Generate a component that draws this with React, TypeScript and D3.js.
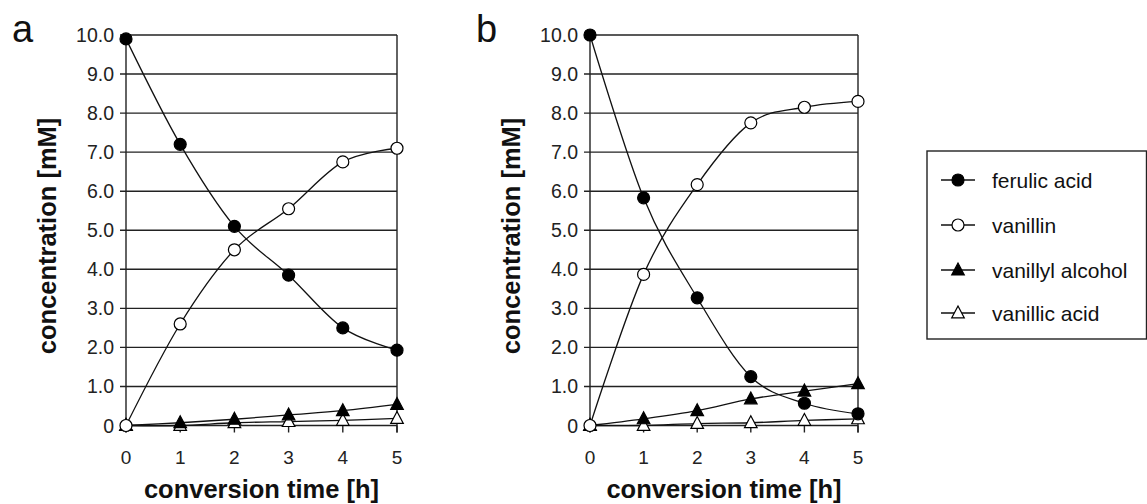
import React from "react";
import * as d3 from "d3";

const hours = [0, 1, 2, 3, 4, 5];
const yTicks = [0, 1, 2, 3, 4, 5, 6, 7, 8, 9, 10];
const yTickLabels = ["0", "1.0", "2.0", "3.0", "4.0", "5.0", "6.0", "7.0", "8.0", "9.0", "10.0"];

const seriesNames = ["ferulic acid", "vanillin", "vanillyl alcohol", "vanillic acid"];

const aFerulic = [9.9, 7.2, 5.1, 3.85, 2.5, 1.93];
const aVanillin = [0, 2.6, 4.5, 5.55, 6.75, 7.1];
const aAlcohol = [0, 0.07, 0.16, 0.27, 0.38, 0.54];
const aVanillic = [0, 0, 0.07, 0.1, 0.13, 0.18];

const bFerulic = [10.0, 5.83, 3.27, 1.25, 0.57, 0.3];
const bVanillin = [0, 3.87, 6.17, 7.75, 8.15, 8.3];
const bAlcohol = [0, 0.17, 0.38, 0.68, 0.88, 1.07];
const bVanillic = [0, 0, 0.05, 0.07, 0.13, 0.17];

const markerKinds = ["circleFilled", "circleOpen", "triFilled", "triOpen"];

const FONT = "'Liberation Sans', Arial, sans-serif";

function Marker({ kind, x, y }: { kind: string; x: number; y: number }) {
  if (kind.startsWith("circle")) {
    return (
      <circle cx={x} cy={y} r={6} fill={kind === "circleFilled" ? "#000" : "#fff"} stroke="#000" strokeWidth={1.2} />
    );
  }
  const s = 7;
  const pts = `${x},${y - s} ${x + s * 0.9},${y + s * 0.7} ${x - s * 0.9},${y + s * 0.7}`;
  return <polygon points={pts} fill={kind === "triFilled" ? "#000" : "#fff"} stroke="#000" strokeWidth={1.2} />;
}

function Panel({ left, right, label, series }: { left: number; right: number; label: string; series: number[][] }) {
  const top = 35;
  const bottom = 425.5;
  const x = d3.scaleLinear().domain([0, 5]).range([left, right]);
  const y = d3.scaleLinear().domain([0, 10]).range([bottom, top]);
  const line = d3
    .line<number>()
    .x((_, i) => x(hours[i]))
    .y((d) => y(d))
    .curve(d3.curveCardinal.tension(0));
  return (
    <g>
      <text x={left - 114} y={42} fontSize={38} fontFamily={FONT} fill="#111">
        {label}
      </text>
      {yTicks.map((t, i) => (
        <g key={t}>
          <line x1={left - 6} x2={right} y1={y(t)} y2={y(t)} stroke="#222" strokeWidth={1.4} />
          <text x={left - 12} y={y(t)} dy="0.36em" textAnchor="end" fontSize={19.5} fontFamily={FONT} fill="#222">
            {yTickLabels[i]}
          </text>
        </g>
      ))}
      <line x1={left} x2={left} y1={top} y2={bottom + 7} stroke="#222" strokeWidth={1.4} />
      <line x1={right} x2={right} y1={top} y2={bottom + 7} stroke="#222" strokeWidth={1.4} />
      {hours.map((h) => (
        <g key={h}>
          <line x1={x(h)} x2={x(h)} y1={bottom} y2={bottom + 7} stroke="#222" strokeWidth={1.4} />
          <text x={x(h)} y={457} dy="0.36em" textAnchor="middle" fontSize={19} fontFamily={FONT} fill="#222">
            {h}
          </text>
        </g>
      ))}
      <text
        x={(left + right) / 2}
        y={489}
        dy="0.36em"
        textAnchor="middle"
        fontSize={25.5}
        fontWeight="bold"
        fontFamily={FONT}
        fill="#111"
      >
        conversion time [h]
      </text>
      <text
        transform={`translate(${left - 79},236) rotate(-90)`}
        textAnchor="middle"
        dy="0.36em"
        fontSize={25.5}
        fontWeight="bold"
        fontFamily={FONT}
        fill="#111"
      >
        concentration [mM]
      </text>
      {series.map((s, k) => (
        <path key={k} d={line(s) || ""} fill="none" stroke="#111" strokeWidth={1.3} />
      ))}
      {series
        .map((s, k) => ({ s, k }))
        .reverse()
        .map(({ s, k }) =>
          s.map((v, i) => <Marker key={`${k}-${i}`} kind={markerKinds[k]} x={x(hours[i])} y={y(v)} />)
        )}
    </g>
  );
}

function Legend() {
  const lx = 927;
  const ly = 151;
  const w = 219.5;
  const h = 188;
  const rows = [180, 225, 270, 313];
  return (
    <g>
      <rect x={lx} y={ly} width={w} height={h} fill="#fff" stroke="#222" strokeWidth={1.4} />
      {seriesNames.map((n, i) => (
        <g key={n}>
          <line x1={941} x2={975} y1={rows[i]} y2={rows[i]} stroke="#111" strokeWidth={1.3} />
          <Marker kind={markerKinds[i]} x={958} y={rows[i]} />
          <text x={992} y={rows[i]} dy="0.36em" fontSize={21} fontFamily={FONT} fill="#111">
            {n}
          </text>
        </g>
      ))}
    </g>
  );
}

export default function App() {
  return (
    <svg width={1147} height={504} style={{ display: "block", position: "absolute", left: 0, top: 0 }}>
      <rect width={1147} height={504} fill="#fff" />
      <Panel left={126} right={397} label="a" series={[aFerulic, aVanillin, aAlcohol, aVanillic]} />
      <Panel left={590} right={858} label="b" series={[bFerulic, bVanillin, bAlcohol, bVanillic]} />
      <Legend />
    </svg>
  );
}
